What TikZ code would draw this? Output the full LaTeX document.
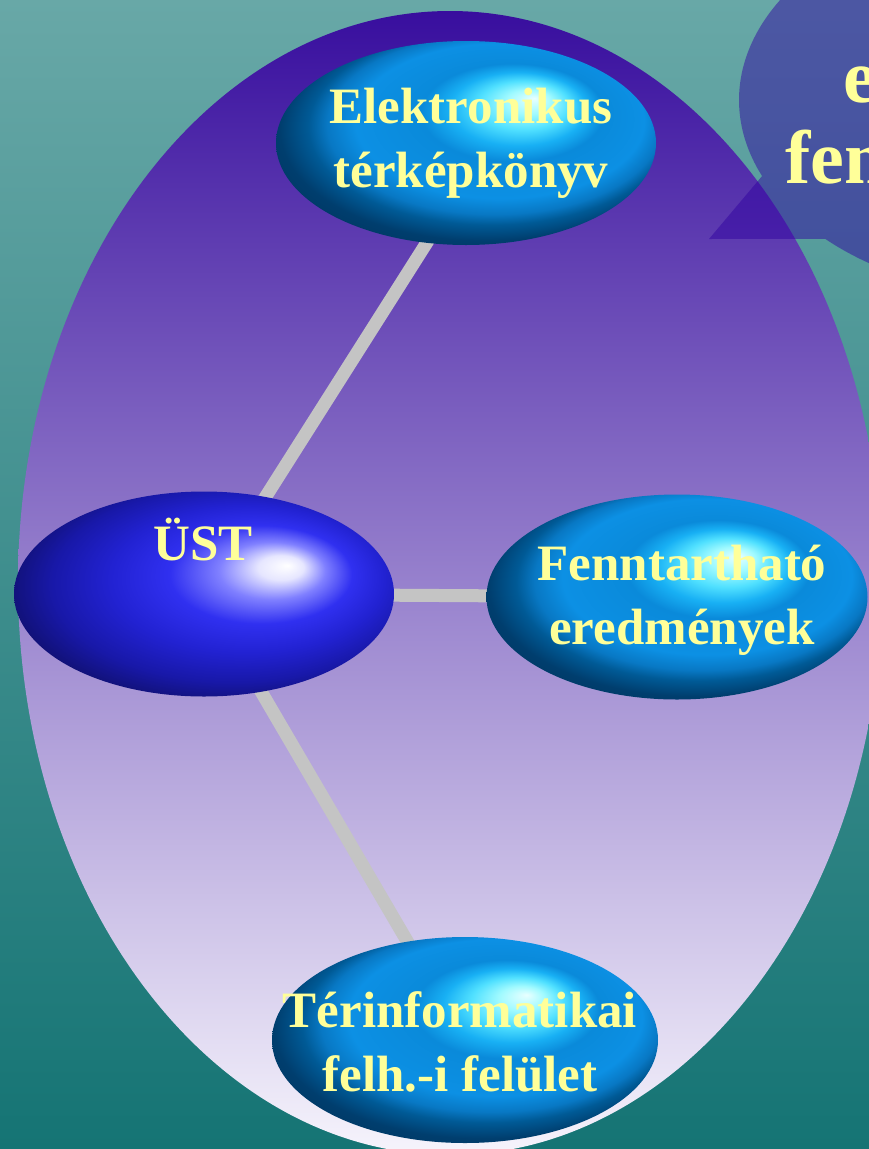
\documentclass[tikz,border=0pt]{standalone}
\usepackage{fontspec}
\setmainfont{Liberation Serif}
\usetikzlibrary{shapes.geometric,backgrounds}
\definecolor{txt}{HTML}{FFFF99}
\definecolor{bgtop}{HTML}{68A8A7}
\definecolor{bgbot}{HTML}{157474}
\definecolor{ovtop}{HTML}{380E9E}
\definecolor{ovbot}{HTML}{F6F4FC}
\definecolor{linkgray}{HTML}{C4C4C4}
\definecolor{bubblefill}{RGB}{47,0,160}
% cyan ball colours
\definecolor{ca}{HTML}{E8FFFF}
\definecolor{cb}{HTML}{A0FAFF}
\definecolor{cc}{HTML}{50E0FF}
\definecolor{cd}{HTML}{18B0F4}
\definecolor{ce}{HTML}{0A8ADA}
\definecolor{cf}{HTML}{0C90E4}
\definecolor{cg}{HTML}{0878C4}
\definecolor{ch}{HTML}{005A96}
\definecolor{ci}{HTML}{003E6E}
\definecolor{cj}{HTML}{002848}
% blue ball colours
\definecolor{ba}{HTML}{FFFFFF}
\definecolor{bb}{HTML}{E6E6FF}
\definecolor{bc}{HTML}{8080FF}
\definecolor{bd}{HTML}{3030F0}
\definecolor{be}{HTML}{2222D2}
\definecolor{bf}{HTML}{1818A8}
\definecolor{bg}{HTML}{101070}
\definecolor{bh}{HTML}{080850}
% the node's bounding box corresponds to the central [-25bp,25bp] square
\newcommand\mkcyanball[3]{\pgfdeclareradialshading{#1}{\pgfpoint{#2}{#3}}{color(0bp)=(ca); color(3bp)=(cb); color(6bp)=(cc); color(9bp)=(cd); color(12bp)=(ce); color(19bp)=(cf); color(22bp)=(cg); color(24bp)=(ch); color(27bp)=(ci); color(37.5bp)=(cj)}}
\mkcyanball{elekball}{9bp}{11bp}
\mkcyanball{fennball}{8bp}{10bp}
\mkcyanball{terball}{8bp}{11bp}
\pgfdeclareradialshading{ustball}{\pgfpoint{11bp}{7bp}}{color(0bp)=(ba); color(3bp)=(bb); color(7bp)=(bc); color(12bp)=(bd); color(18bp)=(be); color(24bp)=(bf); color(29bp)=(bg); color(37.5bp)=(bh)}
\begin{document}
\begin{tikzpicture}[x=1pt,y=-1pt,
  ballnode/.style={ellipse, minimum width=380pt, minimum height=204pt, inner sep=0pt},
  balltext/.style={text=txt, font=\fontsize{51}{64}\selectfont\bfseries, inner sep=0pt, align=center},
  bubbletext/.style={text=txt, font=\fontsize{76}{80}\selectfont\bfseries, inner sep=0pt},
  link/.style={line width=13pt, draw=linkgray}]
\useasboundingbox (0,0) rectangle (869,1149);
\clip (0,0) rectangle (869,1149);
% ellipse nodes
\node[ballnode, shading=elekball] (elek) at (466,143) {};
\node[ballnode, shading=ustball, minimum height=205pt] (ust) at (204,594) {};
\node[ballnode, shading=fennball, minimum width=381pt, minimum height=205pt] (fenn) at (677,597) {};
\node[ballnode, shading=terball, minimum width=386pt, minimum height=206pt] (ter) at (465,1040) {};
% texts
\node[balltext] (elektext) at ([xshift=5pt,yshift=0pt]elek.center) {Elektronikus\\térképkönyv};
\node[balltext, anchor=base] (usttext) at (203,560) {ÜST};
\node[balltext] (fenntext) at ([xshift=5pt,yshift=-3pt]fenn.center) {Fenntartható\\eredmények};
\node[balltext] (tertext) at ([xshift=-5pt,yshift=-2pt]ter.center) {Térinformatikai\\felh.-i felület};
% callout text
\node[bubbletext, anchor=base west] (bub1) at (843,102) {e};
\node[bubbletext, anchor=base west] (bub2) at (785,183) {fem};
\begin{scope}[on background layer]
  \clip (0,0) rectangle (869,1149);
  \shade[top color=bgtop, bottom color=bgbot] (0,0) rectangle (869,1149);
  \shade[top color=ovtop, bottom color=ovbot] (450,583) ellipse [x radius=432, y radius=572];
  \fill[bubblefill, fill opacity=0.48] (709,239) -- plot[domain=157.4:495.5, samples=120, smooth] ({1039+300*cos(\x)},{100+198*sin(\x)}) -- cycle;
  \draw[link] (ust.center) -- ([xshift=24pt]elek.center);
  \draw[link] (ust.center) -- (fenn.center);
  \draw[link] (ust.center) -- (ter.center);
\end{scope}
\end{tikzpicture}
\end{document}
